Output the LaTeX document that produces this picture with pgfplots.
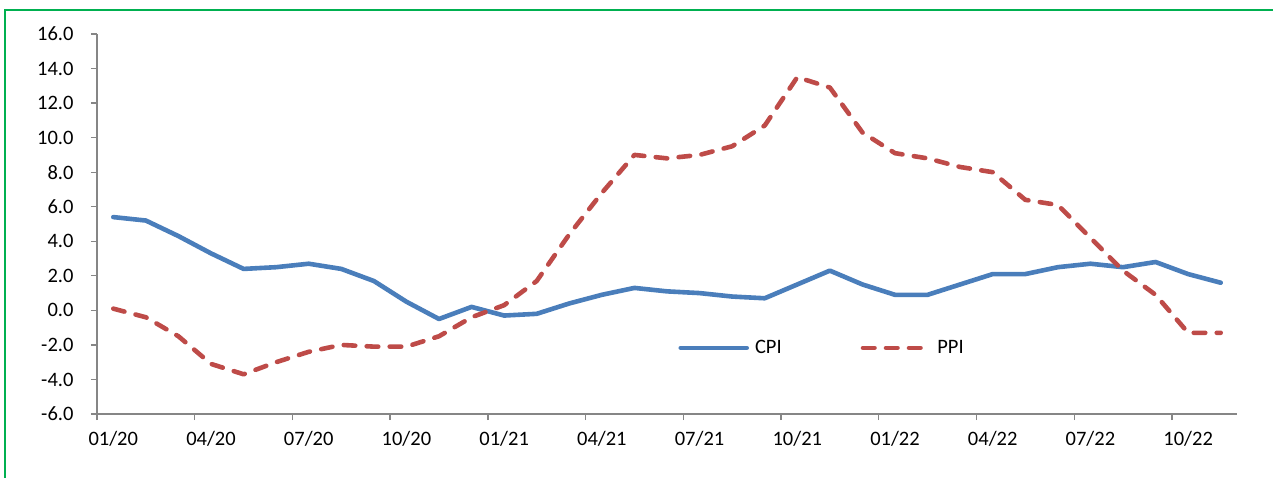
\documentclass[border=0pt]{standalone}
\usepackage{fontspec}
\setmainfont{Carlito}
\usepackage{pgfplots}
\usepackage{pgfplotstable}
\pgfplotsset{compat=1.18}
\definecolor{cpiblue}{HTML}{4A7EBB}
\definecolor{ppired}{HTML}{BE4B48}
\definecolor{axgray}{HTML}{868686}
\definecolor{framegreen}{HTML}{00B050}

\pgfplotstableread{
idx cpi ppi
0 5.4 0.1
1 5.2 -0.4
2 4.3 -1.5
3 3.3 -3.1
4 2.4 -3.7
5 2.5 -3.0
6 2.7 -2.4
7 2.4 -2.0
8 1.7 -2.1
9 0.5 -2.1
10 -0.5 -1.5
11 0.2 -0.4
12 -0.3 0.3
13 -0.2 1.7
14 0.4 4.4
15 0.9 6.8
16 1.3 9.0
17 1.1 8.8
18 1.0 9.0
19 0.8 9.5
20 0.7 10.7
21 1.5 13.5
22 2.3 12.9
23 1.5 10.3
24 0.9 9.1
25 0.9 8.8
26 1.5 8.3
27 2.1 8.0
28 2.1 6.4
29 2.5 6.1
30 2.7 4.2
31 2.5 2.3
32 2.8 0.9
33 2.1 -1.3
34 1.6 -1.3
}\datatable

\begin{document}
\begin{tikzpicture}
\useasboundingbox (-97bp,-64bp) rectangle (1176bp,414bp);
\draw[framegreen, line width=1.5bp] (-92bp,-80bp) -- (-92bp,404bp) -- (1190bp,404bp);
\begin{axis}[
  at={(0,0)}, anchor=south west,
  scale only axis, width=1140bp, height=380bp,
  xmin=-0.5, xmax=34.5, ymin=-6, ymax=16,
  axis lines*=left,
  ytick={-6,-4,...,16},
  xtick={0,3,...,33},
  xticklabels={01/20,04/20,07/20,10/20,01/21,04/21,07/21,10/21,01/22,04/22,07/22,10/22},
  minor xtick={-0.5,2.5,...,32.5},
  major x tick style={draw=none},
  tick align=outside,
  major tick length=6bp, minor tick length=6bp,
  axis line style={axgray, line width=1.3bp},
  every tick/.style={axgray, line width=1.3bp},
  minor tick style={axgray, line width=1.3bp},
  ytick style={axgray, line width=1.3bp},
  tick label style={font=\fontsize{20.5bp}{24bp}\selectfont, text=black},
  yticklabel style={xshift=-14bp},
  xticklabel style={yshift=-8bp},
  /pgf/number format/.cd, fixed, fixed zerofill, precision=1, assume math mode=true,
  /pgfplots/.cd,
  legend columns=2,
  legend style={at={(axis description cs:0.636,0.174)}, anchor=center, draw=none, fill=none,
    font=\fontsize{20.5bp}{24bp}\selectfont,
    /tikz/every even column/.append style={column sep=77bp}},
  legend image code/.code={\draw[#1] (0bp,0bp) -- (66bp,0bp); \path (70bp,0bp);},
]
\addplot[cpiblue, line width=4.6bp, line cap=round, line join=round] table[x=idx, y=cpi] {\datatable};
\addlegendentry{CPI}
\addplot[ppired, line width=4.6bp, line cap=round, line join=round, dash pattern=on 11.5bp off 11.5bp] table[x=idx, y=ppi] {\datatable};
\addlegendentry{PPI}
\end{axis}
\end{tikzpicture}
\end{document}
